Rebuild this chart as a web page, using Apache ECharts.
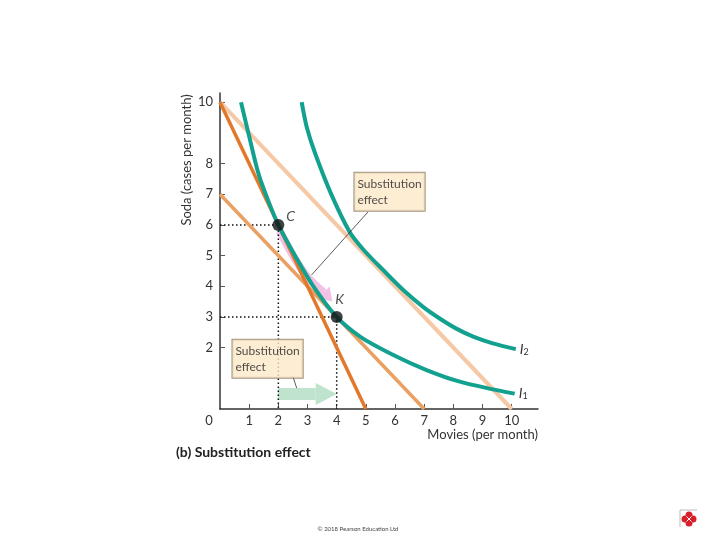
<!DOCTYPE html>
<html><head><meta charset="utf-8">
<script src="https://cdn.jsdelivr.net/npm/echarts@6/dist/echarts.min.js"></script>
<style>html,body{margin:0;padding:0;background:#fff}#c{width:720px;height:540px}</style>
</head><body><div id="c"></div>
<script>
// ---- data ----
const xLabelValues = [0,1,2,3,4,5,6,7,8,9,10];
const xTickValues = [1,2,3,4,5,6,7,8,9,10];
const yTickValues = [2,3,4,5,6,7,8,10];
const budgetInitial = [[0,10],[10,0]];
const budgetNew = [[0,10],[5,0]];
const budgetCompensated = [[0,7],[7,0]];
const curveI1 = [[0.72,10.0],[1.03,8.77],[1.31,7.7],[1.6,6.92],[2.0,6.0],[2.6,4.95],[3.2,4.0],[4.0,3.0],[4.8,2.36],[5.94,1.76],[7.08,1.27],[8.22,0.89],[9.36,0.64],[10.1,0.5]];
const curveI2 = [[2.8,10.0],[2.97,9.2],[3.25,8.36],[3.8,7.03],[4.45,5.76],[4.91,5.2],[5.59,4.53],[6.28,3.88],[6.96,3.33],[7.53,2.95],[8.1,2.62],[8.7,2.35],[9.35,2.14],[10.14,1.95]];
const pointNames = ['C','K'];
const pointValues = [[2,6],[4,3]];
const guideC = [[0,6],[2,6],[2,0]];
const guideK = [[0,3],[4,3],[4,0]];
const pinkArrowPath = [[2.05,5.8],[2.5,5.0],[3.0,4.3],[3.55,3.8],[3.85,3.5]];
const greenArrowPath = [[1.98,0.49],[3.28,0.49],[4.0,0.49]];
const noteText = 'Substitution\neffect';
const notePositions = [[4.59,7.08],[0.41,1.64]];
const leaderUpper = [[5.07,6.42],[3.14,4.37]];
const leaderLower = [[2.49,1.08],[2.63,0.68]];

const arrowPaths = [pinkArrowPath, greenArrowPath];
const arrowStyles = [
  {shaft: 8, head: 17, color: 'rgba(238,172,222,0.75)'},
  {shaft: 12, head: 22, color: '#BFE3CC'}
];

const FONT = 'Lato, "Noto Sans", sans-serif';
const chart = echarts.init(document.getElementById('c'), null, {renderer: 'canvas'});

function renderArrow(params, api) {
  const i = params.dataIndex;
  const path = arrowPaths[i];
  const st = arrowStyles[i];
  const pts = path.map(p => api.coord(p));
  const n = pts.length;
  const base = pts[n - 2], tip = pts[n - 1];
  const dx = tip[0] - base[0], dy = tip[1] - base[1];
  const len = Math.sqrt(dx * dx + dy * dy) || 1;
  const px = -dy / len, py = dx / len;
  const h = st.head / 2;
  return {
    type: 'group',
    children: [
      {type: 'polyline', shape: {points: pts.slice(0, n - 1), smooth: 0.3},
       style: {stroke: st.color, lineWidth: st.shaft, fill: null, lineCap: 'butt', lineJoin: 'round'}},
      {type: 'polygon', shape: {points: [[base[0] + px * h, base[1] + py * h], tip, [base[0] - px * h, base[1] - py * h]]},
       style: {fill: st.color}}
    ]
  };
}

const curveLabel = sub => ({
  show: true, distance: 4,
  formatter: '{i|I}{s|' + sub + '}',
  rich: {
    i: {fontStyle: 'italic', fontSize: 14, lineHeight: 14, verticalAlign: 'top', color: '#333', fontFamily: FONT},
    s: {fontSize: 9, lineHeight: 9, padding: [7, 0, 0, 0], verticalAlign: 'bottom', color: '#333', fontFamily: FONT}
  }
});

const lineBase = {type: 'line', showSymbol: false, symbol: 'none', silent: true, animation: false};
const pointLabelStyles = [
  {position: 'right', distance: 2, offset: [0, -8]},
  {position: 'top', distance: 4, offset: [3, 0]}
];

chart.setOption({
  animation: false,
  backgroundColor: '#fff',
  grid: {left: 220, top: 93, width: 318, height: 316, containLabel: false},
  xAxis: {
    type: 'value', min: 0, max: 10.9,
    axisLine: {lineStyle: {color: '#333', width: 1.5}},
    axisTick: {show: true, inside: true, length: 5, customValues: xTickValues, lineStyle: {color: '#555'}},
    axisLabel: {
      customValues: xLabelValues, margin: 5, fontSize: 13, color: '#333', fontFamily: FONT,
      formatter: v => v === 0 ? '{z|0}' : String(v),
      rich: {z: {padding: [0, 22, 0, 0], fontSize: 13, color: '#333', fontFamily: FONT}}
    },
    splitLine: {show: false}
  },
  yAxis: {
    type: 'value', min: 0, max: 10.3,
    axisLine: {show: true, lineStyle: {color: '#333', width: 1.5}},
    axisTick: {show: true, inside: true, length: 5, customValues: yTickValues, lineStyle: {color: '#555'}},
    axisLabel: {customValues: yTickValues, margin: 7, fontSize: 13, color: '#333', fontFamily: FONT},
    splitLine: {show: false}
  },
  graphic: [
    {type: 'text', x: 187, y: 160, rotation: Math.PI / 2,
     style: {text: 'Soda (cases per month)', align: 'center', verticalAlign: 'middle', font: '13px ' + FONT, fill: '#333'}},
    {type: 'text', x: 538, y: 435,
     style: {text: 'Movies (per month)', align: 'right', verticalAlign: 'middle', font: '13px ' + FONT, fill: '#333'}},
    {type: 'text', x: 176, y: 452,
     style: {text: '(b) Substitution effect', align: 'left', verticalAlign: 'middle', font: 'bold 14px ' + FONT, fill: '#222'}},
    {type: 'text', x: 358, y: 529,
     style: {text: '© 2018 Pearson Education Ltd', align: 'center', verticalAlign: 'middle', font: '6px ' + FONT, fill: '#444'}},
    {type: 'group', x: 689, y: 519, children: [
      {type: 'polyline', shape: {points: [[-9, 8], [-9, -9], [8, -9]]}, style: {stroke: '#bbb', lineWidth: 1, fill: null}},
      {type: 'circle', shape: {cx: -4, cy: 0, r: 3.5}, style: {fill: '#D8202A'}},
      {type: 'circle', shape: {cx: 4, cy: 0, r: 3.5}, style: {fill: '#D8202A'}},
      {type: 'circle', shape: {cx: 0, cy: -4, r: 3.5}, style: {fill: '#D8202A'}},
      {type: 'circle', shape: {cx: 0, cy: 4, r: 3.5}, style: {fill: '#D8202A'}},
      {type: 'rect', shape: {x: -3, y: -3, width: 6, height: 6}, style: {fill: '#D8202A'}},
      {type: 'line', shape: {x1: -2.5, y1: -2.5, x2: 2.5, y2: 2.5}, style: {stroke: '#fff', lineWidth: 1}},
      {type: 'line', shape: {x1: -2.5, y1: 2.5, x2: 2.5, y2: -2.5}, style: {stroke: '#fff', lineWidth: 1}}
    ]}
  ],
  series: [
    {type: 'custom', renderItem: renderArrow, data: [[0, 0], [1, 0]], clip: false, silent: true, z: 1},
    Object.assign({}, lineBase, {data: guideC, z: 2, lineStyle: {color: '#111', width: 1.5, type: [1.5, 2.5]}}),
    Object.assign({}, lineBase, {data: guideK, z: 2, lineStyle: {color: '#111', width: 1.5, type: [1.5, 2.5]}}),
    Object.assign({}, lineBase, {data: budgetInitial, z: 3, lineStyle: {color: '#F5C9A6', width: 4}}),
    Object.assign({}, lineBase, {data: budgetCompensated, z: 4, lineStyle: {color: '#E9A062', width: 3.5}}),
    Object.assign({}, lineBase, {data: budgetNew, z: 4, lineStyle: {color: '#E2782A', width: 3.5}}),
    Object.assign({}, lineBase, {data: curveI2, smooth: 0.3, z: 5, lineStyle: {color: '#13A18F', width: 4}, endLabel: curveLabel('2')}),
    Object.assign({}, lineBase, {data: curveI1, smooth: 0.3, z: 5, lineStyle: {color: '#13A18F', width: 4}, endLabel: curveLabel('1')}),
    Object.assign({}, lineBase, {data: leaderUpper, z: 6, lineStyle: {color: '#333', width: 0.8}}),
    Object.assign({}, lineBase, {data: leaderLower, z: 6, lineStyle: {color: '#333', width: 0.8}}),
    {type: 'scatter', silent: true, z: 8, symbolSize: 12, itemStyle: {color: '#111'},
     data: pointNames.map((n, i) => ({name: n, value: pointValues[i], label: pointLabelStyles[i]})),
     label: {show: true, formatter: p => p.name, fontStyle: 'italic', fontSize: 14, color: '#222', fontFamily: FONT}
    },
    {type: 'scatter', silent: true, z: 9, symbol: 'circle', symbolSize: 1, itemStyle: {color: 'rgba(0,0,0,0)'},
     data: notePositions,
     label: {show: true, formatter: noteText, position: 'right', distance: 0, align: 'left',
       fontSize: 12, lineHeight: 16, color: '#222', fontFamily: FONT,
       backgroundColor: '#FDE9C8', borderColor: '#8C7A62', borderWidth: 1, padding: [3, 3, 3, 3]}}
  ]
});
</script></body></html>
